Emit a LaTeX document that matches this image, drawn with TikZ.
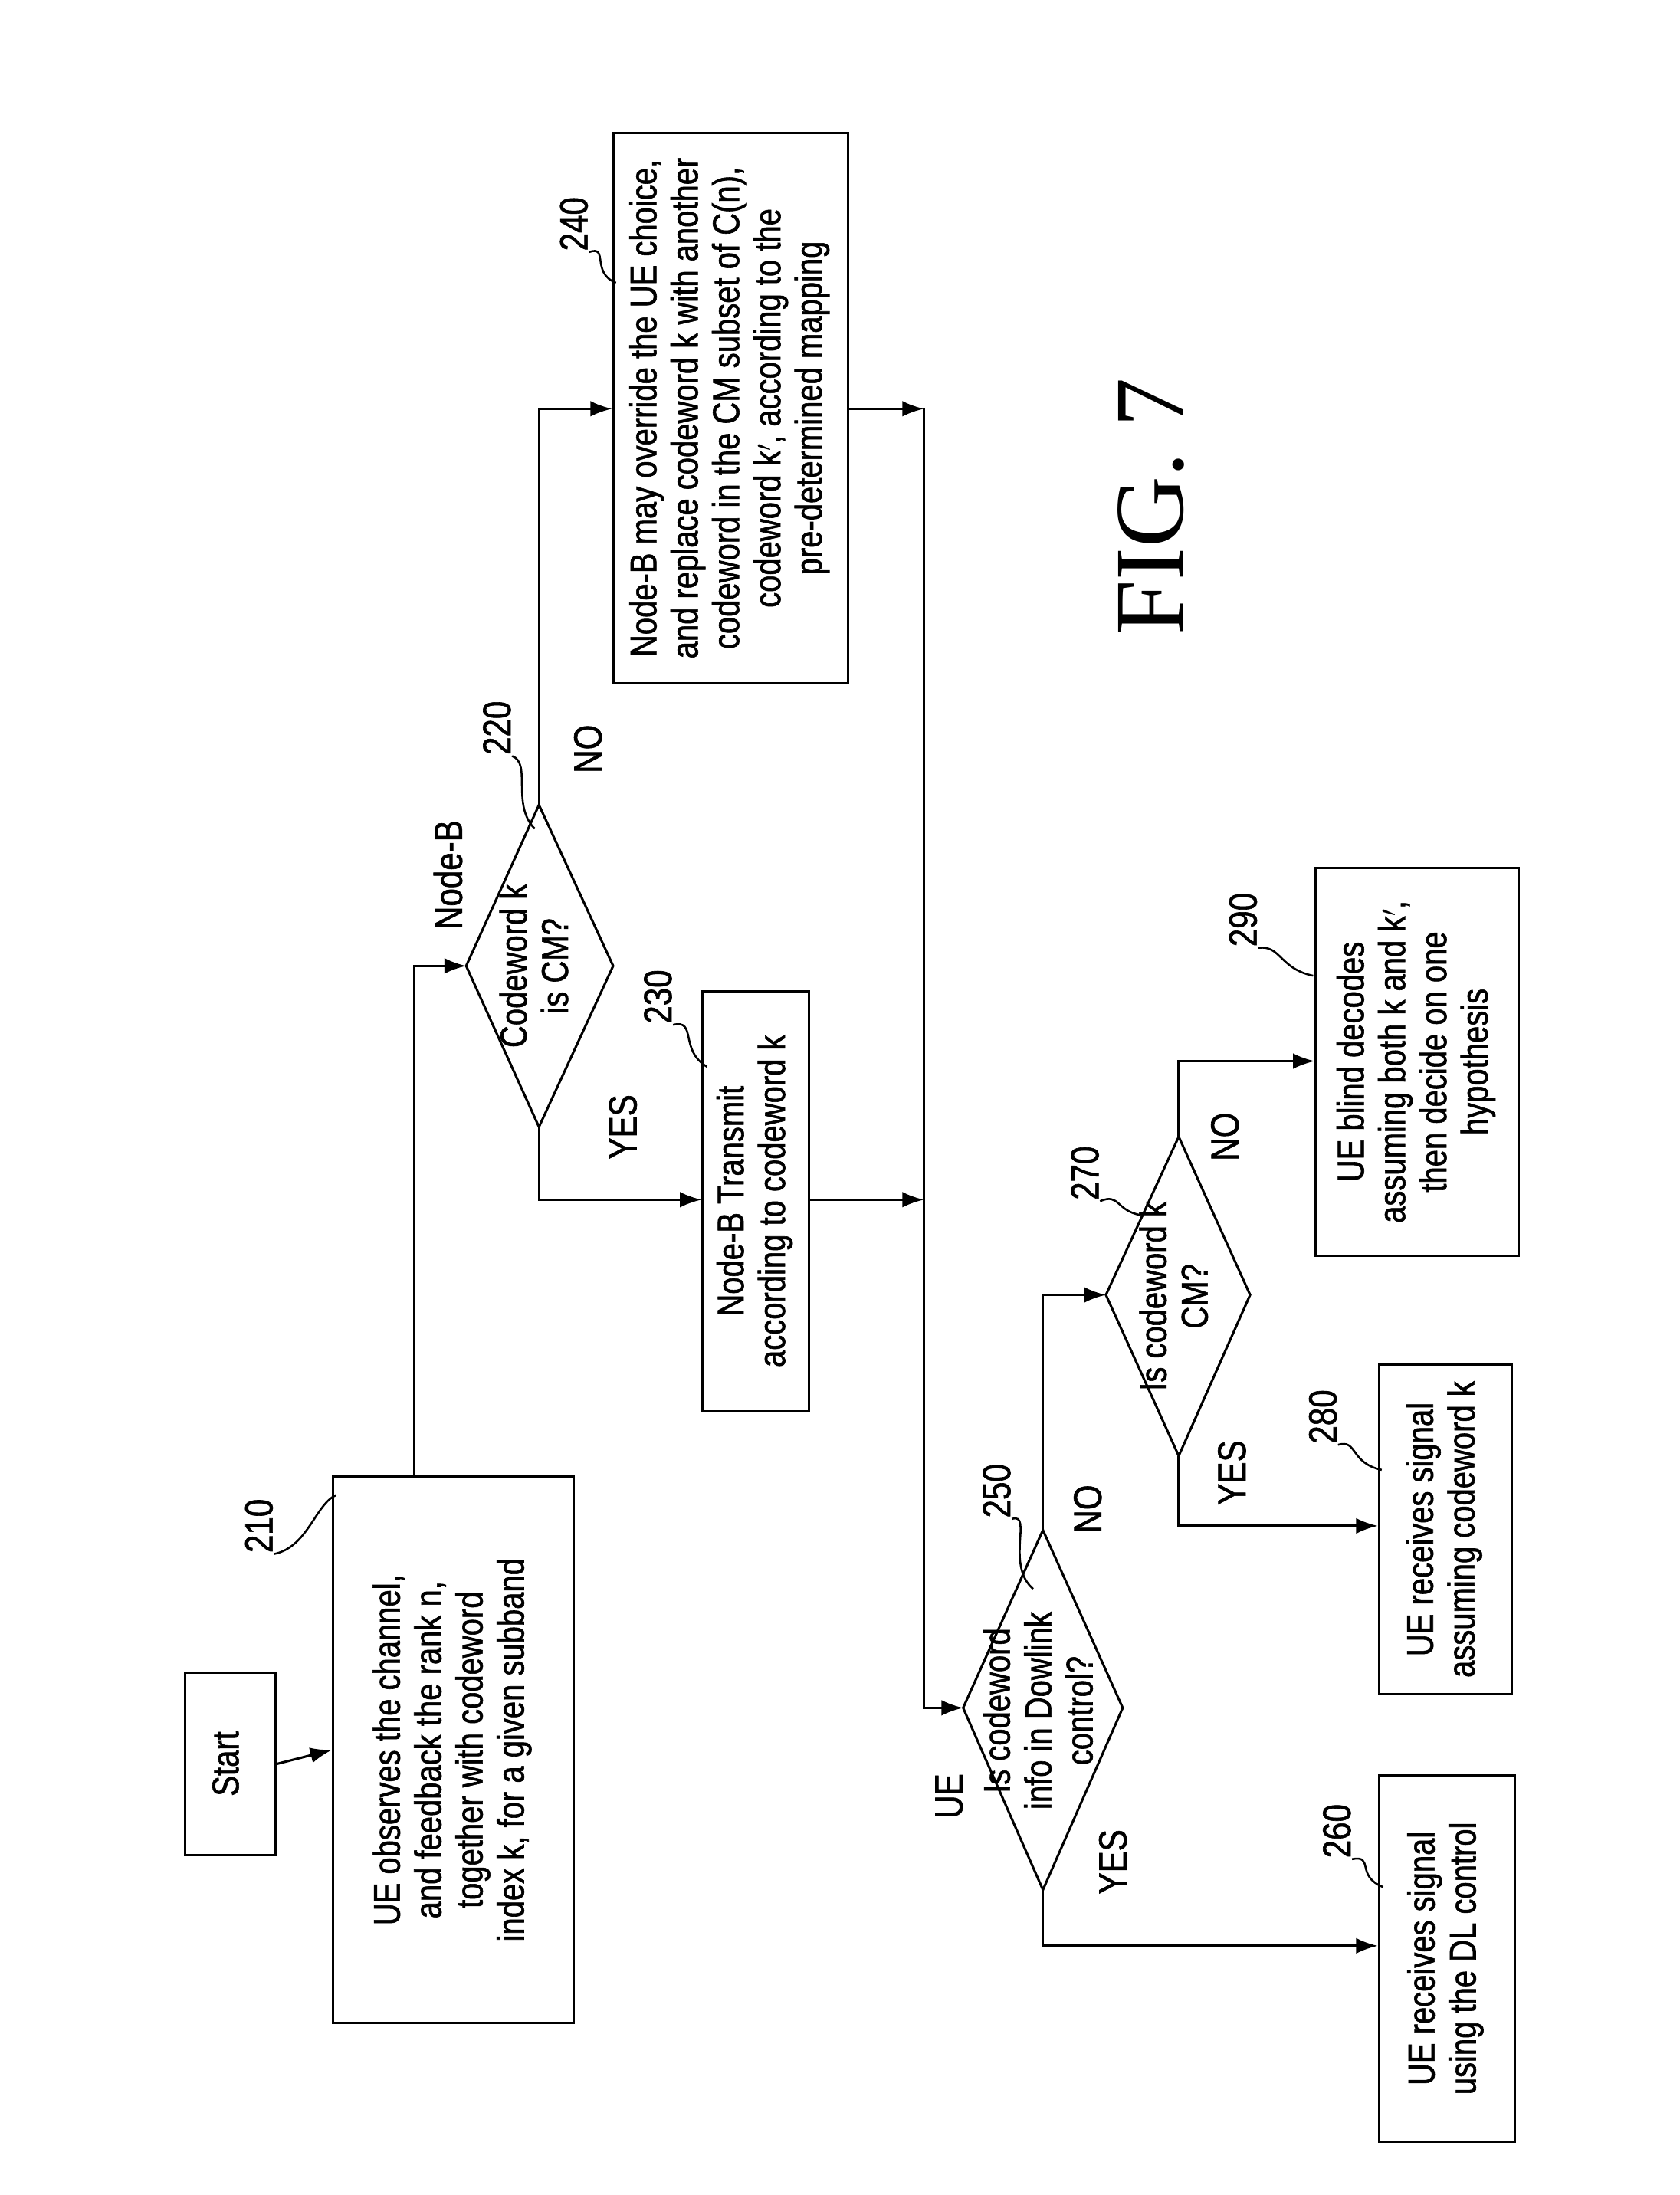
\documentclass[tikz,border=0pt]{standalone}
\usetikzlibrary{arrows.meta}
\usepackage{fontspec}
\setmainfont[FakeStretch=0.82,FakeBold=1.2]{Liberation Sans}
\newfontfamily\figfont{Liberation Serif}
\begin{document}
\begin{tikzpicture}[x=0.05cm,y=-0.05cm,line width=2.4pt,
 box/.style={draw,line width=2.4pt,inner sep=0pt,align=center},
 lbl/.style={inner sep=0pt,font=\fontsize{40}{44}\selectfont,rotate=90},
 arr/.style={-{Latex[length=22pt,width=16pt]},line width=2.4pt},
 lead/.style={line width=2pt}]
\useasboundingbox (0,0) rectangle (1200,1568);
\newcommand{\rt}[1]{\rotatebox{90}{\fontsize{38}{42}\selectfont\begin{tabular}{@{}c@{}}#1\end{tabular}}}
% boxes
\node[box,minimum width=3.25cm,minimum height=6.5cm] (start) at (164.5,1260) {\rt{Start}};
\node[box,minimum width=8.6cm,minimum height=19.5cm] (b210) at (324,1250) {\rt{UE observes the channel,\\and feedback the rank n,\\together with codeword\\index k, for a given subband}};
\node[box,minimum width=3.8cm,minimum height=15cm] (b230) at (540,858) {\rt{Node-B Transmit\\according to codeword k}};
\node[box,minimum width=8.4cm,minimum height=19.65cm] (b240) at (522,291.5) {\rt{Node-B may override the UE choice,\\and replace codeword k with another\\codeword in the CM subset of C(n),\\codeword k$'$, according to the\\pre-determined mapping}};
\node[box,minimum width=4.85cm,minimum height=13.1cm] (b260) at (1033.5,1399) {\rt{UE receives signal\\using the DL control}};
\node[box,minimum width=4.75cm,minimum height=11.75cm] (b280) at (1032.5,1092.5) {\rt{UE receives signal\\assuming codeword k}};
\node[box,minimum width=7.25cm,minimum height=13.85cm] (b290) at (1012.5,758.5) {\rt{UE blind decodes\\assuming both k and k$'$,\\then decide on one\\hypothesis}};
% diamonds
\coordinate (d220w) at (333,690); \coordinate (d220e) at (438,690);
\coordinate (d220n) at (385,575); \coordinate (d220s) at (385,805);
\draw (d220w)--(d220n)--(d220e)--(d220s)--cycle;
\node (t220) at (385,690) {\rt{Codeword k\\is CM?}};
\coordinate (d250w) at (688,1220); \coordinate (d250e) at (802,1220);
\coordinate (d250n) at (745,1093); \coordinate (d250s) at (745,1350);
\draw (d250w)--(d250n)--(d250e)--(d250s)--cycle;
\node (t250) at (745,1222) {\rt{Is codeword\\info in Dowlink\\control?}};
\coordinate (d270w) at (790,925); \coordinate (d270e) at (893,925);
\coordinate (d270n) at (842,812); \coordinate (d270s) at (842,1040);
\draw (d270w)--(d270n)--(d270e)--(d270s)--cycle;
\node (t270) at (842,926) {\rt{Is codeword k\\CM?}};
% connectors
\draw[arr] (start.east) -- (b210.west);
\draw[arr] (b210.north -| 296,0) -- (296,690) -- (d220w);
\draw[arr] (d220n) -- (385,292) -- (b240.west |- 0,292);
\draw[arr] (d220s) -- (385,857) -- (b230.west |- 0,857);
\coordinate (j1) at (660,292);
\coordinate (j2) at (660,857);
\draw[arr] (b240.east |- 0,292) -- (j1);
\draw[arr] (b230.east |- 0,857) -- (j2);
\draw[arr] (j1) -- (660,1220) -- (d250w);
\draw[arr] (d250s) -- (745,1390) -- (b260.west |- 0,1390);
\draw[arr] (d250n) -- (745,925) -- (d270w);
\draw[arr] (d270s) -- (842,1090) -- (b280.west |- 0,1090);
\draw[arr] (d270n) -- (842,758) -- (b290.west |- 0,758);
% labels
\node[lbl] (lnodeb) at (320,625) {Node-B};
\node[lbl] (lno1) at (420,535) {NO};
\node[lbl] (lyes1) at (445,805) {YES};
\node[lbl] (lue) at (678,1283) {UE};
\node[lbl] (lyes2) at (795,1330) {YES};
\node[lbl] (lno2) at (777,1078) {NO};
\node[lbl] (lyes3) at (880,1052) {YES};
\node[lbl] (lno3) at (875,812) {NO};
% reference numbers
\node[lbl] (n210) at (185,1090) {210};
\draw[lead] (n210.south west) .. controls (220,1105) and (225,1075) .. (240,1068);
\node[lbl] (n220) at (355,520) {220};
\draw[lead] (n220.south west) .. controls (380,545) and (365,575) .. (382,592);
\node[lbl] (n230) at (470,712) {230};
\draw[lead] (n230.south west) .. controls (498,728) and (485,750) .. (505,762);
\node[lbl] (n240) at (410,160) {240};
\draw[lead] (n240.south west) .. controls (435,175) and (422,195) .. (440,202);
\node[lbl] (n250) at (712,1065) {250};
\draw[lead] (n250.south west) .. controls (738,1080) and (718,1118) .. (738,1135);
\node[lbl] (n260) at (955,1308) {260};
\draw[lead] (n260.south west) .. controls (982,1325) and (968,1340) .. (988,1348);
\node[lbl] (n270) at (775,838) {270};
\draw[lead] (n270.south west) .. controls (800,852) and (797,865) .. (815,868);
\node[lbl] (n280) at (945,1012) {280};
\draw[lead] (n280.south west) .. controls (970,1028) and (964,1045) .. (987,1050);
\node[lbl] (n290) at (888,657) {290};
\draw[lead] (n290.south west) .. controls (915,675) and (914,692) .. (938,697);
\node[inner sep=0pt,rotate=90,font=\figfont\fontsize{100}{100}\selectfont] (fig) at (822,362) {FIG. 7};
\end{tikzpicture}
\end{document}
